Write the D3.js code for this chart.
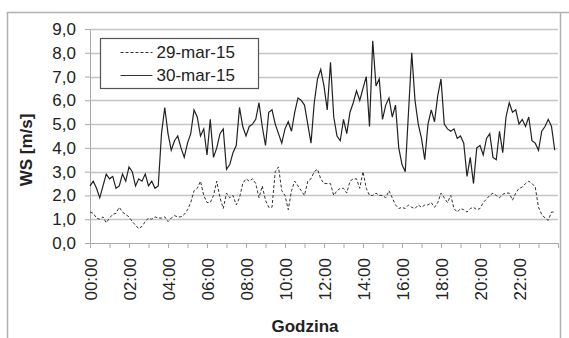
<!DOCTYPE html>
<html>
<head>
<meta charset="utf-8">
<script src="https://cdnjs.cloudflare.com/ajax/libs/d3/7.8.5/d3.min.js"></script>
<style>
  body { margin: 0; background: #fff; }
  svg { display: block; }
  text { font-family: "Liberation Sans", Arial, sans-serif; fill: #222; }
</style>
</head>
<body>
<div class="chart"></div>
<script>
// series names (legend)
var seriesNames = ["29-mar-15", "30-mar-15"]

// wind speed every 10 minutes
var ws29 = [
  1.3, 1.25, 1.05, 1.0, 1.1, 0.85, 1.05, 1.2, 1.25, 1.5, 1.3, 1.2,
  1.1, 0.9, 0.75, 0.6, 0.7, 0.9, 1.05, 1.0, 1.1, 1.05, 1.05, 1.1,
  0.9, 1.05, 1.15, 1.1, 1.1, 1.2, 1.4, 1.7, 2.2, 2.3, 2.6, 2.0,
  1.7, 1.7, 2.0, 2.6, 1.9, 1.45, 2.1, 1.9, 2.0, 1.6, 1.9, 2.5,
  2.7, 2.6, 2.7, 2.5, 1.9, 2.4, 1.8, 1.5, 1.5, 3.0, 3.2, 2.2,
  2.0, 1.4, 2.2, 2.6, 2.4, 2.2, 2.0, 2.6, 2.7, 3.0, 3.1, 2.7,
  2.5, 2.5, 2.5, 2.0, 2.2, 2.3, 2.3, 2.1, 2.6, 2.7, 2.7, 2.3,
  3.0, 2.3, 2.0, 2.0, 2.1, 2.0, 2.0, 1.9, 2.2, 1.9, 1.6, 1.45,
  1.5, 1.45, 1.6, 1.5, 1.45, 1.6, 1.5, 1.6, 1.6, 1.7, 1.5, 1.7,
  2.1, 1.9, 1.7, 2.0, 1.45, 1.3, 1.45, 1.4, 1.3, 1.45, 1.5, 1.4,
  1.45, 1.7, 1.85, 2.0, 2.1, 2.0, 1.9, 2.05, 2.1, 2.1, 1.8, 2.1,
  2.3, 2.35, 2.5, 2.6, 2.5, 2.35, 1.5, 1.2, 1.05, 0.95, 1.3, 1.3
]
var ws30 = [
  2.4, 2.6, 2.3, 1.9, 2.4, 2.9, 2.7, 2.8, 2.3, 2.4, 2.9, 2.6,
  3.2, 3.0, 2.4, 2.7, 2.6, 2.9, 2.4, 2.6, 2.3, 2.4, 4.6, 5.7,
  4.6, 3.9, 4.3, 4.5, 4.0, 3.6, 4.2, 4.6, 5.6, 5.3, 4.5, 4.8,
  3.7, 5.2, 3.6, 4.0, 4.6, 4.8, 3.1, 3.3, 3.8, 4.1, 5.7, 4.9,
  4.5, 4.9, 5.0, 5.2, 5.9, 4.9, 4.1, 5.5, 5.6, 5.0, 4.6, 4.2,
  4.8, 5.1, 4.7, 5.5, 6.1, 6.0, 5.8, 5.0, 4.2, 5.9, 6.9, 7.3,
  6.6, 5.6, 7.6, 5.3, 4.5, 4.3, 5.2, 4.6, 5.5, 5.9, 6.4, 6.0,
  6.5, 7.0, 4.9, 8.5, 6.6, 6.9, 5.2, 5.8, 6.1, 5.3, 5.8, 4.0,
  3.3, 3.0, 5.5, 8.0, 6.0, 5.0, 4.4, 3.5, 5.0, 5.6, 5.1, 6.2,
  6.9, 5.0, 4.8, 4.7, 4.8, 4.4, 4.5, 4.2, 2.8, 3.6, 2.5, 4.0,
  4.1, 3.7, 4.4, 4.6, 3.6, 3.5, 4.7, 3.8, 5.3, 5.9, 5.5, 5.6,
  5.0, 5.2, 4.9, 5.3, 4.3, 4.2, 3.9, 4.7, 4.9, 5.2, 4.9, 3.9
]

var yTicks = [0, 1, 2, 3, 4, 5, 6, 7, 8, 9]
var xLabelHours = [0, 2, 4, 6, 8, 10, 12, 14, 16, 18, 20, 22]
var xTickHours = d3.range(0, 24)

var width = 569
var height = 338
var plot = { left: 90, right: 558, top: 29, bottom: 243 }
var stepMinutes = 10

var svg = d3.select(".chart")
  .append("svg")
    .attr("width", width)
    .attr("height", height)

// outer frame
svg.append("path")
  .attr("d", "M7.5," + height + "V12.5H569M560.5,12.5V" + height)
  .attr("fill", "none")
  .attr("stroke", "#b0b0b0")
  .attr("stroke-width", 1.5)

var xScale = d3.scaleLinear()
  .domain([0, 24])
  .range([plot.left, plot.right])

var yScale = d3.scaleLinear()
  .domain([0, 9])
  .range([plot.bottom, plot.top])

// gridlines
svg.append("g")
  .selectAll("line")
  .data(yTicks.slice(1))
  .enter()
  .append("line")
    .attr("x1", plot.left)
    .attr("x2", plot.right)
    .attr("y1", function(d) { return Math.round(yScale(d)) + 0.5 })
    .attr("y2", function(d) { return Math.round(yScale(d)) + 0.5 })
    .attr("stroke", "#c4c4c4")
    .attr("stroke-width", 1.5)

// y axis
var yAxis = d3.axisLeft(yScale)
  .tickValues(yTicks)
  .tickSize(5)
  .tickPadding(9)
  .tickFormat(function(d) { return d3.format(".1f")(d).replace(".", ",") })

var gy = svg.append("g")
  .attr("transform", "translate(" + plot.left + ",0)")
  .call(yAxis)
gy.select(".domain").attr("stroke", "#aaa")
gy.selectAll(".tick line").attr("stroke", "#aaa")
gy.selectAll(".tick text")
  .attr("font-size", 17)
  .attr("fill", "#222")
  .attr("font-family", "Liberation Sans, Arial, sans-serif")

// x axis, tick every hour, label every 2 hours
var xAxis = d3.axisBottom(xScale)
  .tickValues(xTickHours)
  .tickSize(5)
  .tickFormat("")

var gx = svg.append("g")
  .attr("transform", "translate(0," + plot.bottom + ")")
  .call(xAxis)
gx.select(".domain").attr("stroke", "#aaa")
gx.selectAll(".tick line").attr("stroke", "#aaa")

svg.append("g")
  .selectAll("text")
  .data(xLabelHours)
  .enter()
  .append("text")
    .attr("transform", function(d) {
      return "translate(" + (xScale(d) + 1) + "," + (plot.bottom + 15) + ") rotate(-90)"
    })
    .attr("text-anchor", "end")
    .attr("dy", "0.35em")
    .attr("font-size", 17)
    .text(function(d) { return d3.format("02d")(d) + ":00" })

// axis titles
svg.append("text")
  .attr("x", 305)
  .attr("y", 332)
  .attr("text-anchor", "middle")
  .attr("font-size", 17)
  .attr("font-weight", "bold")
  .text("Godzina")

svg.append("text")
  .attr("transform", "translate(32,150) rotate(-90)")
  .attr("text-anchor", "middle")
  .attr("font-size", 17)
  .attr("font-weight", "bold")
  .text("WS [m/s]")

// lines
var line = d3.line()
  .x(function(d, i) { return xScale(i * stepMinutes / 60) })
  .y(function(d) { return yScale(d) })

svg.append("path")
  .datum(ws29)
  .attr("d", line)
  .attr("fill", "none")
  .attr("stroke", "#333")
  .attr("stroke-width", 1)
  .attr("stroke-dasharray", "3,2")

svg.append("path")
  .datum(ws30)
  .attr("d", line)
  .attr("fill", "none")
  .attr("stroke", "#222")
  .attr("stroke-width", 1.2)

// legend
var legend = svg.append("g")
  .attr("transform", "translate(100.5,38.5)")

legend.append("rect")
  .attr("width", 158)
  .attr("height", 50)
  .attr("fill", "#fff")
  .attr("stroke", "#555")
  .attr("stroke-width", 1.2)

seriesNames.forEach(function(name, i) {
  var y = 14 + i * 23
  legend.append("line")
    .attr("x1", 20)
    .attr("x2", 52)
    .attr("y1", y)
    .attr("y2", y)
    .attr("stroke", "#333")
    .attr("stroke-width", i == 0 ? 1 : 1.2)
    .attr("stroke-dasharray", i == 0 ? "3,2" : null)
  legend.append("text")
    .attr("x", 56)
    .attr("y", y)
    .attr("dy", "0.35em")
    .attr("font-size", 17)
    .text(name)
})
</script>
</body>
</html>
